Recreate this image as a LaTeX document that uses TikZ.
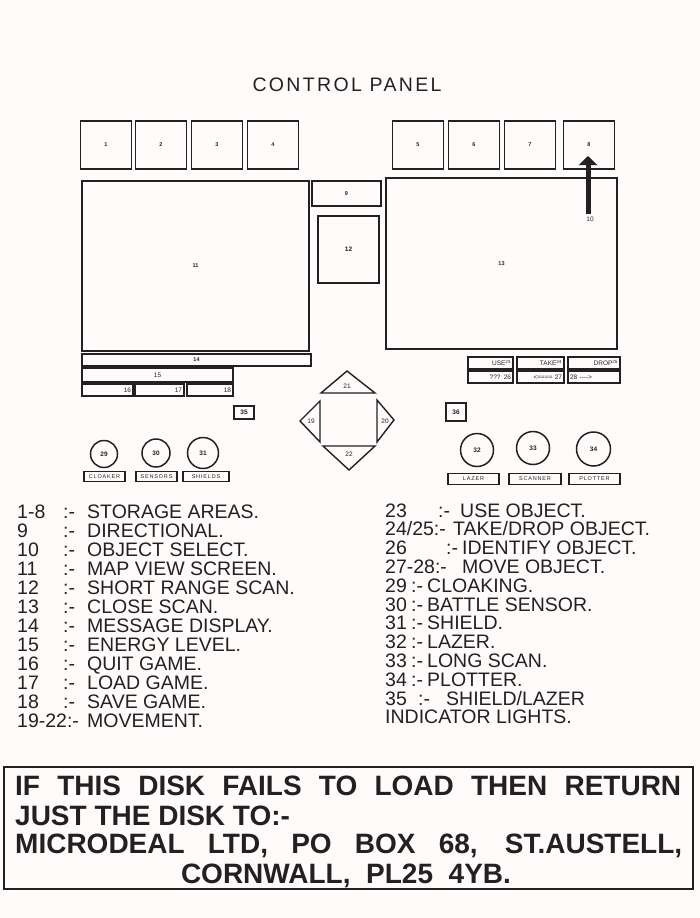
\documentclass[tikz,border=0pt]{standalone}
\usepackage{fontspec}
\setmainfont{Liberation Sans}
\usepackage{tikz}
\usetikzlibrary{arrows.meta,positioning}
\definecolor{paper}{RGB}{253,252,250}
\definecolor{ink}{RGB}{36,32,34}
\newcommand\numfont{\fontsize{5.5}{6}\selectfont\bfseries}
\newcommand\btnfont{\fontsize{6.5}{7}\selectfont}
\newcommand\tagfont{\fontsize{5.5}{6}\selectfont\addfontfeature{LetterSpace=15}}
\newcommand\keyfont{\fontsize{19.5}{19.5}\selectfont}
\tikzset{%
  panel box/.style={
    draw=ink,
    line width=1.5pt,
    inner sep=0pt,
    text=ink,
    font=\numfont
  },
  store box/.style={
    panel box,
    minimum width=51pt,
    minimum height=48pt
  },
  button/.style={
    panel box,
    line width=1.2pt,
    minimum height=12pt,
    font=\btnfont
  },
  dial/.style={
    circle,
    panel box,
    font=\btnfont\bfseries
  },
  tag box/.style={
    panel box,
    line width=1.2pt,
    minimum height=10.5pt,
    font=\tagfont
  },
  pad/.style={
    draw=ink,
    line width=1.4pt,
    line join=miter
  },
  pad label/.style={
    inner sep=0pt,
    text=ink,
    font=\btnfont
  },
  select arrow/.style={
    draw=ink,
    line width=5pt,
    -{Triangle[width=18pt,length=9pt]}
  },
  key/.style={
    anchor=base west,
    inner sep=0pt,
    text=ink,
    font=\keyfont
  },
  notice/.style={
    anchor=base west,
    inner sep=0pt,
    text=ink,
    font=\fontsize{28}{29}\selectfont\bfseries
  },
}

\begin{document}
\begin{tikzpicture}[x=1pt, y=-1pt]
\fill[paper] (0,0) rectangle (700,918);
\useasboundingbox (0,0) rectangle (700,918);

\node[anchor=base, inner sep=0pt, text=ink, font={\fontsize{19.5}{20}\selectfont\addfontfeature{LetterSpace=12}}] (title) at (347,91) {CONTROL PANEL};

\foreach \n/\x in {1/106,2/161,3/217,4/273,5/418,6/474,7/530,8/589}
  \node[store box] (store-\n) at (\x,145) {\n};

\node[panel box, minimum width=69pt, minimum height=25pt] (compass) at (346.5,193.5) {9};
\node[panel box, minimum width=227pt, minimum height=170pt] (map-view) at (195.5,266) {11};
\node[panel box, minimum width=61pt, minimum height=67pt, font=\btnfont\bfseries] (short-scan) at (348.5,249.5) {12};
\node[panel box, minimum width=231pt, minimum height=171pt] (close-scan) at (501.5,263.5) {13};
\node[panel box, minimum width=229pt, minimum height=12pt] (message) at (196.5,360) {14};
\node[panel box, minimum width=151pt, minimum height=14pt, font=\btnfont] (energy) at (157.5,375) {15};
\foreach \n/\x/\w/\t in {16/107.5/51/47, 17/159.5/49/45, 18/210/46/42}
  \node[panel box, line width=1.2pt, minimum width=\w pt, minimum height=12pt, text width=\t pt, align=right, font=\btnfont] (game-\n) at (\x,390) {\n};

\node[panel box, line width=1.2pt, minimum width=20pt, minimum height=13pt, font=\btnfont\bfseries] (light-35) at (244,412.5) {35};
\node[panel box, line width=1.2pt, minimum width=20pt, minimum height=18pt, font=\btnfont\bfseries] (light-36) at (456,412) {36};

\foreach \n/\x/\y/\w/\t/\a/\s in {use/490.5/363/45/41/right/{USE\textsuperscript{23}},
    take/540.5/363/47/43/right/{TAKE\textsuperscript{24}},
    drop/594/363/52/48/right/{DROP\textsuperscript{25}},
    ident/490.5/377/45/41/right/{??? 26},
    back/540.5/377/47/43/right/{<==== 27},
    fwd/594/377/52/48/left/{28 -{}-{}-{}-{}>}}
  \node[button, minimum width=\w pt, text width=\t pt, align=\a] (btn-\n) at (\x,\y) {\s};

\draw[pad] (321,393) -- (347,371) -- (375,393) -- cycle;
\draw[pad] (320,401) -- (300,421) -- (320,442) -- cycle;
\draw[pad] (377,400) -- (394,420) -- (377,442) -- cycle;
\draw[pad] (323,446) -- (375,446) -- (349,470) -- cycle;
\node[pad label] (move-21) at (347,386) {21};
\node[pad label] (move-19) at (311,421) {19};
\node[pad label] (move-20) at (385,421) {20};
\node[pad label] (move-22) at (349,454) {22};

\node[pad label] (select) at (590,219) {10};
\coordinate (select-tip) at (588,156);
\draw[select arrow, shorten <=3pt] (select.north -| select-tip) -- (select-tip);

\foreach \n/\x/\y/\r in {29/104/454/13.5, 30/156/453/14, 31/203/453/15.5, 32/477/450/16.5, 33/533/448/16.5, 34/593.5/449/17}
  \node[dial, minimum size=2*\r pt] (dial-\n) at (\x,\y) {\n};

\foreach \n/\x/\y/\w/\s in {29/104.5/476.5/41/CLOAKER, 30/156.5/476.5/41/SENSORS, 31/206/476.5/46/SHIELDS,
    32/473.5/479/51/LAZER, 33/535/479/52/SCANNER, 34/594.5/479/51/PLOTTER}
  \node[tag box, minimum width=\w pt] (tag-\n) at (\x,\y) {\s};

\foreach \n/\d [count=\i from 0] in {1-8/STORAGE AREAS., 9/DIRECTIONAL., 10/OBJECT SELECT., 11/MAP VIEW SCREEN.,
    12/SHORT RANGE SCAN., 13/CLOSE SCAN., 14/MESSAGE DISPLAY., 15/ENERGY LEVEL., 16/QUIT GAME.,
    17/LOAD GAME., 18/SAVE GAME.}
{
  \node[key] (key-l\i) at (17,518+19*\i) {\n};
  \node[key] (sep-l\i) at (63,518+19*\i) {:-};
  \node[key] (desc-l\i) at (87,518+19*\i) {\d};
}
\node[key] (key-l11) at (17,727) {19-22:-};
\node[key] (desc-l11) at (87,727) {MOVEMENT.};

\foreach \n/\cx/\tx/\d/\i in {23/438/460/USE OBJECT./0, 26/446/462/IDENTIFY OBJECT./2,
    29/411/427/CLOAKING./4, 30/411/427/BATTLE SENSOR./5, 31/411/427/SHIELD./6, 32/411/427/LAZER./7,
    33/411/427/LONG SCAN./8, 34/411/427/PLOTTER./9, 35/418/446/{SHIELD/LAZER}/10}
{
  \node[key] (key-r\i) at (385,517+18.8*\i) {\n};
  \node[key] (sep-r\i) at (\cx,517+18.8*\i) {:-};
  \node[key] (desc-r\i) at (\tx,517+18.8*\i) {\d};
}
\foreach \n/\tx/\d/\i in {{24/25:-}/453/{TAKE/DROP OBJECT.}/1, {27-28:-}/462/MOVE OBJECT./3}
{
  \node[key] (key-r\i) at (385,517+18.8*\i) {\n};
  \node[key] (desc-r\i) at (\tx,517+18.8*\i) {\d};
}
\node[key] (key-r11) at (385,723.8) {INDICATOR LIGHTS.};

\node[draw=ink, line width=1.8pt, minimum width=689pt, minimum height=122pt, inner sep=0pt] (return-box) at (348.5,828) {};
\node[notice] (return-1) at (15,795) {\makebox[666pt][s]{IF THIS DISK FAILS TO LOAD THEN RETURN}};
\node[notice] (return-2) at (15,825) {JUST THE DISK TO:-};
\node[notice] (return-3) at (15,853) {\makebox[667pt][s]{MICRODEAL LTD, PO BOX 68, ST.AUSTELL,}};
\node[notice, anchor=base] (return-4) at (346,883) {\makebox[330pt][s]{CORNWALL, PL25 4YB.}};

\end{tikzpicture}
\end{document}
